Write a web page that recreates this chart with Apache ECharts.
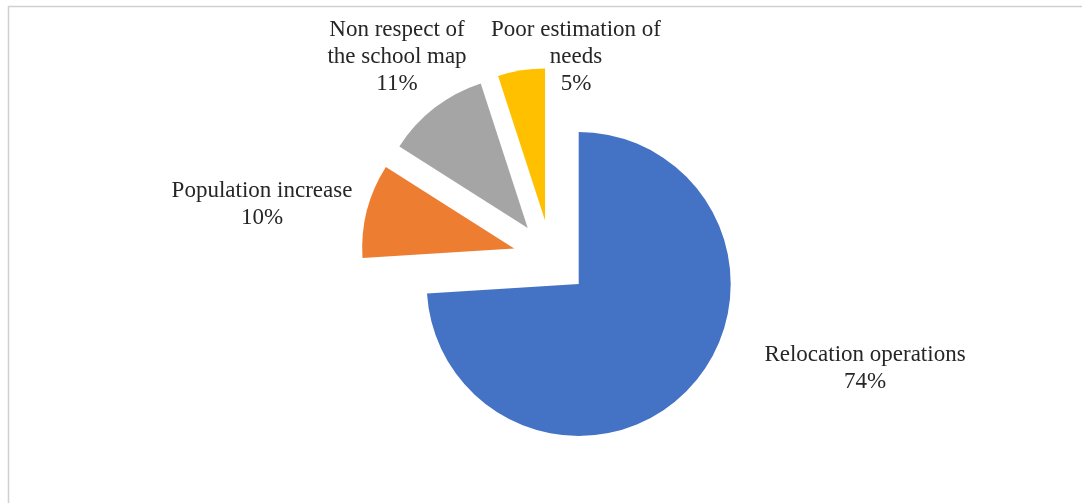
<!DOCTYPE html>
<html>
<head>
<meta charset="utf-8">
<script src="https://cdn.jsdelivr.net/npm/echarts@6/dist/echarts.min.js"></script>
<style>
  html, body { margin: 0; padding: 0; background: #ffffff; }
  #chart { width: 1082px; height: 503px; }
</style>
</head>
<body>
<div id="chart"></div>
<script>
// Data
const categories = ['Relocation operations', 'Population increase', 'Non respect of\nthe school map', 'Poor estimation of\nneeds'];
const values = [74, 10, 11, 5];
const colors = ['#4472C4', '#ED7D31', '#A5A5A5', '#FFC000'];

// Label anchor positions (layout only)
const labelPos = [[865, 368], [262, 204], [397, 57], [576, 57]];

const total = values.reduce(function (a, b) { return a + b; }, 0);

const chart = echarts.init(document.getElementById('chart'), null, { renderer: 'canvas' });

const labelGraphics = categories.map(function (c, i) {
  return {
    type: 'text',
    x: labelPos[i][0],
    y: labelPos[i][1],
    silent: true,
    style: {
      text: c + '\n' + Math.round(values[i] / total * 100) + '%',
      fontFamily: 'Liberation Serif',
      fontSize: 23,
      lineHeight: 27,
      fill: '#262626',
      align: 'center',
      verticalAlign: 'middle'
    }
  };
});

chart.setOption({
  backgroundColor: '#ffffff',
  animation: false,
  graphic: [{
    type: 'rect',
    shape: { x: 8.5, y: 6.5, width: 1200, height: 600 },
    style: { fill: 'none', stroke: '#d0d0d0', lineWidth: 1.5 },
    silent: true
  }].concat(labelGraphics),
  series: [{
    type: 'pie',
    center: [551, 258],
    radius: 152,
    startAngle: 90,
    clockwise: true,
    selectedMode: 'multiple',
    selectedOffset: 38,
    avoidLabelOverlap: false,
    label: { show: false },
    labelLine: { show: false },
    emphasis: { disabled: true },
    itemStyle: { borderWidth: 0 },
    data: categories.map(function (c, i) {
      return { name: c, value: values[i], selected: true, itemStyle: { color: colors[i] } };
    })
  }]
});
</script>
</body>
</html>
